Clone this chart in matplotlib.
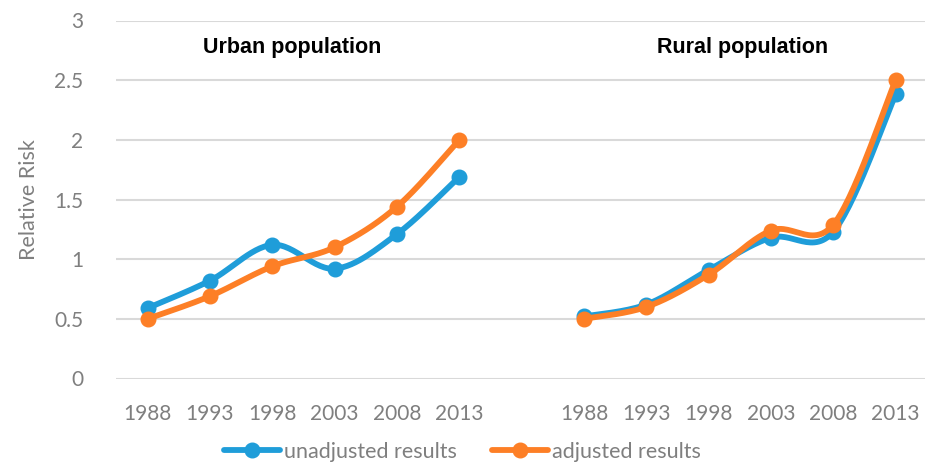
import numpy as np
import matplotlib.pyplot as plt

## Data
years = ['1988', '1993', '1998', '2003', '2008', '2013']
urban_unadjusted = [0.59, 0.82, 1.12, 0.92, 1.21, 1.69]
urban_adjusted = [0.50, 0.69, 0.94, 1.10, 1.44, 2.00]
rural_unadjusted = [0.52, 0.62, 0.91, 1.18, 1.23, 2.38]
rural_adjusted = [0.50, 0.60, 0.87, 1.24, 1.29, 2.50]

BLUE = '#1f9dd9'
ORANGE = '#fd7f26'
GRAY = '#7f7f7f'
STEPS = 30

plt.rcParams['font.family'] = ['Lato', 'DejaVu Sans']


def smooth(xs, ys, steps=STEPS):
    # Catmull-Rom style curve, similar to Excel's "smoothed line"
    p = np.column_stack([xs, ys]).astype(float)
    p = np.vstack([p[0], p, p[-1]])
    out = []
    t = np.linspace(0, 1, steps, endpoint=False)
    for i in range(1, len(p) - 2):
        p0, p1, p2, p3 = p[i - 1], p[i], p[i + 1], p[i + 2]
        c1 = p1 + (p2 - p0) / 6
        c2 = p2 - (p3 - p1) / 6
        b = ((1 - t) ** 3)[:, None] * p1 + (3 * (1 - t) ** 2 * t)[:, None] * c1 \
            + (3 * (1 - t) * t ** 2)[:, None] * c2 + (t ** 3)[:, None] * p2
        out.append(b)
    out.append(p[-2][None, :])
    out = np.vstack(out)
    return out[:, 0], out[:, 1]


fig = plt.figure(figsize=(9.25, 4.66), dpi=100)
ax = fig.add_axes([116.5 / 925, 87.5 / 466, 1 - 116.5 / 925, 358 / 466])

x_urban = np.arange(len(years))
x_rural = np.arange(len(years)) + len(years) + 1

series = [
    (urban_unadjusted, rural_unadjusted, BLUE, 'unadjusted results'),
    (urban_adjusted, rural_adjusted, ORANGE, 'adjusted results'),
]
for urban, rural, color, label in series:
    for xs, ys, lab in [(x_urban, urban, label), (x_rural, rural, None)]:
        sx, sy = smooth(xs, ys)
        ax.plot(sx, sy, color=color, lw=4.2, marker='o', ms=10.5,
                markevery=STEPS, solid_capstyle='round', label=lab)

## Axes styling
ax.set_ylim(0, 3)
ax.set_yticks(np.arange(0, 3.01, 0.5))
ax.set_yticklabels(['0', '0.5', '1', '1.5', '2', '2.5', '3'])
ax.set_xlim(-0.5, 12.47)
ax.set_xticks(list(x_urban) + list(x_rural))
ax.set_xticklabels(years + years)
ax.grid(axis='y', color='#d9d9d9', lw=1.5)
ax.set_axisbelow(True)
for s in ax.spines.values():
    s.set_visible(False)
ax.tick_params(axis='both', length=0, labelsize=15, labelcolor=GRAY)
ax.tick_params(axis='y', pad=24)
ax.tick_params(axis='x', pad=18)
ax.set_ylabel('Relative Risk', fontsize=15.5, color=GRAY, labelpad=11)

## Panel titles
title_font = dict(fontsize=15.5, fontweight='bold', color='black',
                  family=['Liberation Sans Narrow', 'Liberation Sans'],
                  ha='center', va='center')
ax.text(2.32, 2.77, 'Urban population', **title_font)
ax.text(9.54, 2.77, 'Rural population', **title_font)

## Legend
leg = fig.legend(loc='center', bbox_to_anchor=(0.5, 0.03), ncol=2, frameon=False,
                 fontsize=15.5, handlelength=2.6, handletextpad=0.2,
                 columnspacing=1.6, numpoints=1)
for t in leg.get_texts():
    t.set_color(GRAY)

plt.savefig('out.png', dpi=100)
